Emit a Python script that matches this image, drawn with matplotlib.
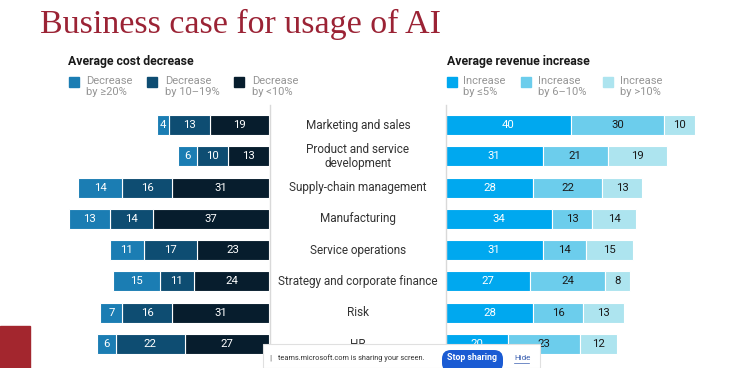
import matplotlib
matplotlib.use("Agg")
import matplotlib.pyplot as plt
from matplotlib.patches import Rectangle, FancyBboxPatch
from matplotlib.lines import Line2D
import matplotlib.transforms as mtransforms

plt.rcParams['font.family'] = ['Roboto', 'DejaVu Sans']

# data
categories = ["Marketing and sales", "Product and service\ndevelopment",
              "Supply-chain management", "Manufacturing", "Service operations",
              "Strategy and corporate finance", "Risk", "HR"]
cost_ge20 = [4, 6, 14, 13, 11, 15, 7, 6]
cost_10_19 = [13, 10, 16, 14, 17, 11, 16, 22]
cost_lt10 = [19, 13, 31, 37, 23, 24, 31, 27]
rev_le5 = [40, 31, 28, 34, 31, 27, 28, 20]
rev_6_10 = [30, 21, 22, 13, 14, 24, 16, 23]
rev_gt10 = [10, 19, 13, 14, 15, 8, 13, 12]

cost_labels = ["Decrease\nby \u226520%", "Decrease\nby 10\u201319%", "Decrease\nby <10%"]
rev_labels = ["Increase\nby \u22645%", "Increase\nby 6\u201310%", "Increase\nby >10%"]
cost_colors = ["#1b7db3", "#0e4d72", "#071d2d"]
rev_colors = ["#00a8ef", "#6ccdec", "#ade4ef"]

W, H = 750, 368
fig = plt.figure(figsize=(7.5, 3.68), dpi=100)
fig.patch.set_facecolor("white")

def fx(px):
    return px / W

def fy(py):
    return 1 - py / H

# axes placement (rows centred at y=125 .. 344 px)
row_top, row_bot = 109.4, 359.7
axL = fig.add_axes([fx(66), fy(row_bot), fx(269) - fx(66), fy(row_top) - fy(row_bot)])
axR = fig.add_axes([fx(446), fy(row_bot), fx(742) - fx(446), fy(row_top) - fy(row_bot)])

n = len(categories)
ys = list(range(n))
bh = 0.64

def stack(ax, series, colors, txtcolors):
    left = [0] * n
    for vals, c, tc in zip(series, colors, txtcolors):
        bars = ax.barh(ys, vals, left=left, height=bh, color=c,
                       edgecolor="white", linewidth=0.8)
        for b, v, l in zip(bars, vals, left):
            ax.text(l + v / 2, b.get_y() + bh / 2, str(v), ha="center", va="center",
                    color=tc, fontsize=8.2)
        left = [a + b for a, b in zip(left, vals)]

stack(axL, [cost_lt10, cost_10_19, cost_ge20], cost_colors[::-1], ["white"] * 3)
stack(axR, [rev_le5, rev_6_10, rev_gt10], rev_colors, ["white", "#1a1a1a", "#1a1a1a"])

axL.set_xlim(65, 0)
axR.set_xlim(0, 95)
for ax in (axL, axR):
    ax.set_ylim(n - 0.5, -0.5)
    ax.axis("off")

# category labels in the middle
trans = mtransforms.blended_transform_factory(fig.transFigure, axL.transData)
for y, cat in zip(ys, categories):
    axL.text(fx(358), y, cat, transform=trans, ha="center", va="center",
             fontsize=8.5, color="#333333", linespacing=1.05, clip_on=False)

# vertical separators
for px in (270, 446):
    fig.add_artist(Line2D([fx(px), fx(px)], [fy(105), fy(368)], color="#d9d9d9", lw=1))

# title
fig.text(fx(40), fy(33), "Business case for usage of AI", fontsize=24.5,
         family="Liberation Serif", color="#9b2335", va="baseline", ha="left")

# headers and legends
fig.text(fx(68), fy(62), "Average cost decrease", fontsize=8.8, weight="bold",
         color="#1a1a1a", va="center")
fig.text(fx(447), fy(62), "Average revenue increase", fontsize=8.8, weight="bold",
         color="#1a1a1a", va="center")

def legend(sq_x, txt_x, labels, colors):
    for sx, tx, lab, c in zip(sq_x, txt_x, labels, colors):
        fig.add_artist(Rectangle((fx(sx), fy(87)), fx(10), 10 / H, color=c,
                                 transform=fig.transFigure))
        fig.text(fx(tx), fy(76), lab, fontsize=8, color="#959595", va="top",
                 ha="left", linespacing=1.1)

legend([69, 147, 234], [86, 165, 252], cost_labels, cost_colors)
legend([447, 521, 603], [463, 538, 620], rev_labels, rev_colors)

# red corner block
fig.add_artist(Rectangle((0, 0), fx(30), 42 / H, color="#a3262e",
                         transform=fig.transFigure, zorder=5))

# screen sharing bar overlay
fig.add_artist(Rectangle((fx(263), 0), fx(540) - fx(263), 24 / H, facecolor="white",
                         edgecolor="#e0e0e0", lw=0.8, transform=fig.transFigure, zorder=10))
fig.text(fx(269), fy(358), "||", fontsize=5, color="#999999", va="center", zorder=11)
fig.text(fx(278), fy(358), "teams.microsoft.com is sharing your screen.", fontsize=5.3,
         color="#333333", va="center", zorder=11)
fig.add_artist(FancyBboxPatch((fx(442), fy(372)), fx(61), 22 / H,
                              boxstyle="round,pad=0,rounding_size=0.012",
                              mutation_aspect=2.0,
                              facecolor="#1a5bd3", edgecolor="none",
                              transform=fig.transFigure, zorder=11))
fig.text(fx(472), fy(358), "Stop sharing", fontsize=6.3, color="white", weight="bold",
         ha="center", va="center", zorder=12)
fig.text(fx(514), fy(358), "Hide", fontsize=5.8, color="#3a5fb0", va="center",
         ha="left", zorder=12)
fig.add_artist(Line2D([fx(514), fx(529)], [fy(363), fy(363)], color="#3a5fb0", lw=0.5,
                      zorder=12))

fig.savefig("out.png", dpi=100)
